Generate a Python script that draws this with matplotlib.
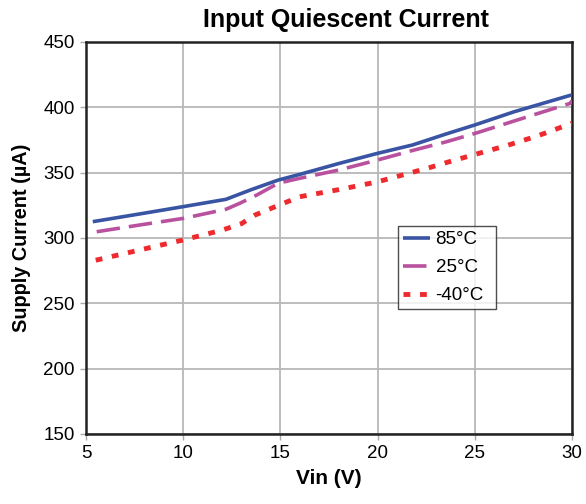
import matplotlib
matplotlib.use("Agg")
import matplotlib.pyplot as plt

plt.rcParams['font.family'] = ['Liberation Sans', 'DejaVu Sans']

vin_85 = [5.35, 8.0, 10.0, 12.2, 13.5, 14.9, 16.0, 18.0, 20.0, 21.8, 23.5, 25.0, 27.0, 29.8, 30.0]
i_85 = [312.5, 319.0, 324.0, 329.6, 337.0, 344.4, 348.7, 357.0, 364.8, 371.2, 379.5, 386.5, 396.5, 408.7, 409.5]

vin_25 = [5.55, 8.0, 10.0, 12.2, 12.9, 13.8, 14.9, 16.0, 18.0, 20.0, 21.8, 23.5, 25.0, 27.97, 29.9, 30.0]
i_25 = [304.8, 310.5, 315.0, 322.0, 326.5, 333.0, 342.0, 345.7, 352.0, 359.7, 367.0, 373.5, 380.0, 394.0, 403.0, 405.0]

vin_m40 = [5.5, 8.1, 10.0, 12.0, 13.0, 13.7, 14.9, 16.0, 18.0, 20.0, 22.7, 23.6, 24.9, 26.7, 28.2, 30.0]
i_m40 = [283.0, 292.0, 298.5, 306.0, 311.0, 317.6, 325.0, 331.6, 337.0, 343.0, 354.0, 358.0, 363.5, 371.0, 378.0, 387.8]

x_ticks = [5, 10, 15, 20, 25, 30]
y_ticks = [150, 200, 250, 300, 350, 400, 450]

fig = plt.figure(figsize=(5.86, 5.04), dpi=100)
ax = fig.add_axes([86/586, 70/504, 486/586, 392/504])

ax.plot(vin_85, i_85, color='#3a54a4', lw=2.6, solid_capstyle='butt', label='85°C', zorder=5)
ax.plot(vin_25, i_25, color='#b9519f', lw=2.6, dashes=(6.5, 2.5), label='25°C', zorder=4)
ax.plot(vin_m40, i_m40, color='#ee2a2e', lw=3.5, dashes=(1.4, 2.0), label='-40°C', zorder=3)

ax.set_xlim(5, 30)
ax.set_ylim(150, 450)
ax.set_xticks(x_ticks)
ax.set_yticks(y_ticks)
ax.grid(True, color='#b8b8b8', lw=1.3)
ax.set_axisbelow(True)
for s in ax.spines.values():
    s.set_linewidth(1.8)
    s.set_color('#222222')
ax.tick_params(axis='both', direction='out', length=4, width=1, color='#aaaaaa', labelsize=13.5, pad=4)

ax.set_xlabel('Vin (V)', fontsize=15, fontweight='bold', labelpad=5)
ax.set_ylabel('Supply Current (µA)', fontsize=14.3, fontweight='bold', labelpad=9)
fig.text(346/586, (504-27)/504, 'Input Quiescent Current', ha='center', va='baseline', fontsize=18, fontweight='bold')

leg = ax.legend(loc='lower left', bbox_to_anchor=(0.642, 0.319, 0.202, 0.207), mode='expand',
                fontsize=13.5, frameon=True, fancybox=False, edgecolor='#222222', borderaxespad=0,
                handlelength=1.45, handletextpad=0.3, labelspacing=0.58, borderpad=0.25)
leg.get_frame().set_linewidth(1.0)

fig.savefig('out.png', dpi=100)
